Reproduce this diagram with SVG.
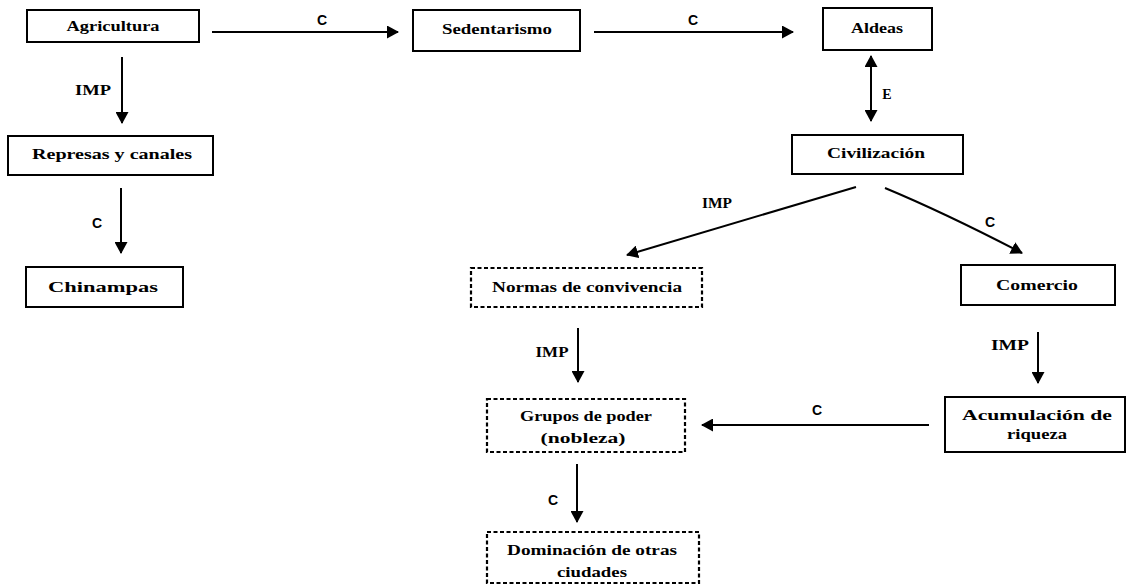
<svg xmlns="http://www.w3.org/2000/svg" width="1127" height="586" viewBox="0 0 1127 586">
  <defs>
    <marker id="arrow" markerUnits="userSpaceOnUse" markerWidth="12" markerHeight="13" refX="11" refY="6.5" orient="auto-start-reverse">
      <path d="M0,0 L12,6.5 L0,13 z" fill="#000"/>
    </marker>
  </defs>
  <style>
    .box { fill: #fff; stroke: #000; stroke-width: 2; }
    .dash { fill: #fff; stroke: #000; stroke-width: 2.2; stroke-dasharray: 4 2.5; }
    .lbl { font-family: "Liberation Serif", "Times New Roman", serif; font-weight: bold; font-size: 15px; fill: #000; text-anchor: middle; }
    .rel { font-family: "Liberation Serif", "Times New Roman", serif; font-weight: bold; font-size: 14px; fill: #000; text-anchor: middle; }
    .relc { font-family: "Liberation Sans", Arial, sans-serif; font-weight: bold; font-size: 14px; fill: #000; text-anchor: middle; }
    .edge { fill: none; stroke: #000; stroke-width: 2; }
  </style>
  <rect width="1127" height="586" fill="#fff"/>

  <!-- connectors -->
  <g id="connectors">
    <path class="edge" d="M212,32 H398" marker-end="url(#arrow)"/>
    <path class="edge" d="M594,32 H793" marker-end="url(#arrow)"/>
    <path class="edge" d="M122,57 V123" marker-end="url(#arrow)"/>
    <path class="edge" d="M121,188 V253" marker-end="url(#arrow)"/>
    <path class="edge" d="M871,56 V121" marker-start="url(#arrow)" marker-end="url(#arrow)"/>
    <path class="edge" d="M856,187 L627,255" marker-end="url(#arrow)"/>
    <path class="edge" d="M885,188 Q945,213 1022,253" marker-end="url(#arrow)"/>
    <path class="edge" d="M578,328 V382" marker-end="url(#arrow)"/>
    <path class="edge" d="M1038,332 V383" marker-end="url(#arrow)"/>
    <path class="edge" d="M929,425 H702" marker-end="url(#arrow)"/>
    <path class="edge" d="M577,464 V522" marker-end="url(#arrow)"/>

    <text class="relc" x="322" y="25">C</text>
    <text class="relc" x="693" y="25">C</text>
    <text class="rel" x="93" y="95" textLength="36" lengthAdjust="spacingAndGlyphs">IMP</text>
    <text class="relc" x="97" y="228">C</text>
    <text class="rel" x="887" y="99">E</text>
    <text class="rel" x="717" y="208" textLength="30" lengthAdjust="spacingAndGlyphs">IMP</text>
    <text class="relc" x="990" y="227">C</text>
    <text class="rel" x="552" y="357" textLength="33" lengthAdjust="spacingAndGlyphs">IMP</text>
    <text class="rel" x="1010" y="350" textLength="38" lengthAdjust="spacingAndGlyphs">IMP</text>
    <text class="relc" x="817" y="415">C</text>
    <text class="relc" x="553" y="505">C</text>
  </g>

  <!-- nodes -->
  <g id="agricultura">
    <rect class="box" x="27" y="10" width="172" height="32"/>
    <text class="lbl" x="113" y="31" textLength="93" lengthAdjust="spacingAndGlyphs">Agricultura</text>
  </g>
  <g id="sedentarismo">
    <rect class="box" x="413" y="10" width="167" height="41"/>
    <text class="lbl" x="497" y="34" textLength="110" lengthAdjust="spacingAndGlyphs">Sedentarismo</text>
  </g>
  <g id="aldeas">
    <rect class="box" x="823" y="8" width="109" height="42"/>
    <text class="lbl" x="877" y="33" textLength="52" lengthAdjust="spacingAndGlyphs">Aldeas</text>
  </g>
  <g id="represas">
    <rect class="box" x="8" y="136" width="205" height="39"/>
    <text class="lbl" x="112" y="159" textLength="160" lengthAdjust="spacingAndGlyphs">Represas y canales</text>
  </g>
  <g id="civilizacion">
    <rect class="box" x="792" y="135" width="171" height="39"/>
    <text class="lbl" x="876" y="158" textLength="98" lengthAdjust="spacingAndGlyphs">Civilización</text>
  </g>
  <g id="chinampas">
    <rect class="box" x="26" y="267" width="157" height="40"/>
    <text class="lbl" x="103" y="292" textLength="110" lengthAdjust="spacingAndGlyphs">Chinampas</text>
  </g>
  <g id="normas">
    <rect class="dash" x="471" y="268" width="231" height="39"/>
    <text class="lbl" x="587" y="292" textLength="190" lengthAdjust="spacingAndGlyphs">Normas de convivencia</text>
  </g>
  <g id="comercio">
    <rect class="box" x="961" y="265" width="154" height="40"/>
    <text class="lbl" x="1037" y="290" textLength="82" lengthAdjust="spacingAndGlyphs">Comercio</text>
  </g>
  <g id="grupos">
    <rect class="dash" x="487" y="399" width="198" height="53"/>
    <text class="lbl" x="586" y="421" textLength="132" lengthAdjust="spacingAndGlyphs">Grupos de poder</text>
    <text class="lbl" x="583" y="443" textLength="85" lengthAdjust="spacingAndGlyphs">(nobleza)</text>
  </g>
  <g id="acumulacion">
    <rect class="box" x="945" y="397" width="180" height="55"/>
    <text class="lbl" x="1037" y="420" textLength="150" lengthAdjust="spacingAndGlyphs">Acumulación de</text>
    <text class="lbl" x="1037" y="439" textLength="60" lengthAdjust="spacingAndGlyphs">riqueza</text>
  </g>
  <g id="dominacion">
    <rect class="dash" x="487" y="532" width="212" height="51"/>
    <text class="lbl" x="592" y="555" textLength="170" lengthAdjust="spacingAndGlyphs">Dominación de otras</text>
    <text class="lbl" x="592" y="577" textLength="70" lengthAdjust="spacingAndGlyphs">ciudades</text>
  </g>
</svg>
